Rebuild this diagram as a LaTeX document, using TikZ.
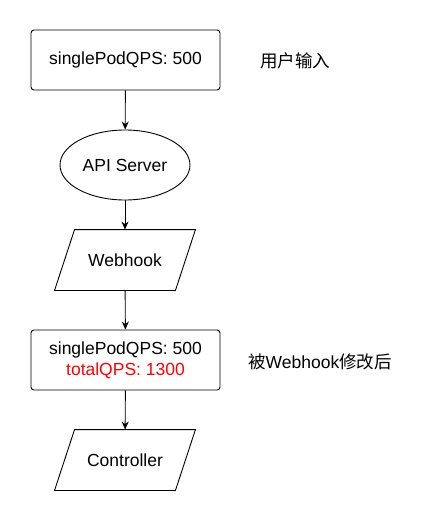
\documentclass[tikz,border=0pt]{standalone}
\usepackage{fontspec}
\setmainfont{Liberation Sans}
\newfontfamily\cjk{Noto Sans CJK SC}
\usetikzlibrary{shapes.geometric, arrows.meta}

\begin{document}
\begin{tikzpicture}[x=1pt, y=-1pt, line width=0.9pt,
		box/.style={draw, rounded corners=3pt, minimum width=189pt, minimum height=60pt, align=center},
		io/.style={minimum width=120pt, minimum height=60pt,
			append after command={\pgfextra{\draw ([xshift=10pt]\tikzlastnode.north west) -- ([xshift=10pt]\tikzlastnode.north east)
				-- ([xshift=-10pt]\tikzlastnode.south east) -- ([xshift=-10pt]\tikzlastnode.south west) -- cycle;}}},
		flow/.style={-{Stealth[length=8pt, width=7pt]}},
		every node/.style={font=\fontsize{17.5}{21}\selectfont}]
	\useasboundingbox (0,0) rectangle (431,521);
	\node (n1) [box] at (125.5,60) {singlePodQPS: 500};
	\node (n2) [draw, ellipse, minimum width=130pt, minimum height=70pt] at (125,165) {API Server};
	\node (n3) [io] at (125,260) {Webhook};
	\node (n4) [box] at (125.5,360) {singlePodQPS: 500\\\textcolor{red}{totalQPS: 1300}};
	\node (n5) [io] at (125,460) {Controller};
	\node (t1) at (295,61) {\cjk 用户输入};
	\node (t2) at (320,362) {{\cjk 被}Webhook{\cjk 修改后}};
	\draw [flow] (n1) -- (n2);
	\draw [flow] (n2) -- (n3);
	\draw [flow] (n3) -- (n4);
	\draw [flow] (n4) -- (n5);
\end{tikzpicture}
\end{document}
